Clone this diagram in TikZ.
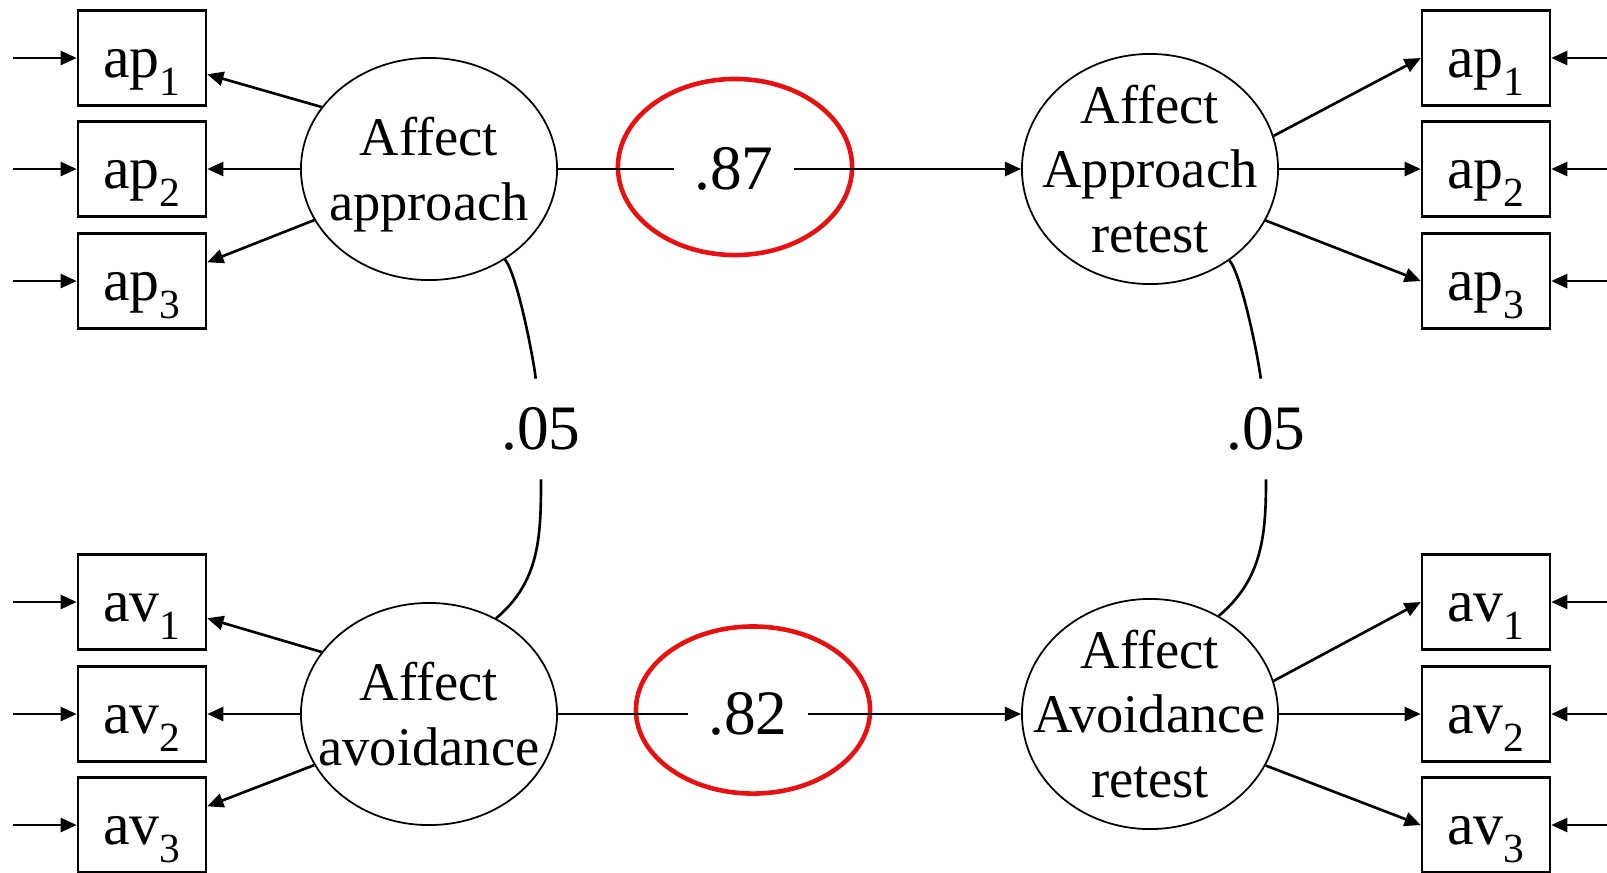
\documentclass[tikz,border=0pt]{standalone}
\usepackage{fontspec}
\setmainfont{Liberation Serif}
\usetikzlibrary{arrows.meta,shapes.geometric}

\newcommand{\itemlabel}[2]{\raisebox{-5.5pt}[0pt][0pt]{#1\raisebox{-5.1pt}{\fontsize{11.8}{12}\selectfont #2}}}

\begin{document}
\begin{tikzpicture}[
    x=0.01cm, y=0.01cm,
    >={Triangle[length=4.6pt,width=4pt]},
    itembox/.style={rectangle, draw=black, line width=0.7pt, minimum width=1.28cm, minimum height=0.95cm, inner sep=0pt, font=\fontsize{17}{20}\selectfont},
    factor/.style={ellipse, draw=black, line width=0.5pt, minimum width=2.56cm, minimum height=2.22cm, inner sep=-9pt, align=center, font=\fontsize{15.5}{18.4}\selectfont},
    coef/.style={inner xsep=5.5pt, inner ysep=8pt, font=\fontsize{18}{20}\selectfont},
    ring/.style={ellipse, draw=ringred, line width=1.3pt, minimum width=2.34cm, minimum height=1.76cm},
    link/.style={->, line width=0.75pt},
    cov/.style={line width=0.75pt}
]

% Colors
\definecolor{ringred}{RGB}{232,16,16}

\useasboundingbox (0,0) rectangle (1607,-872);

% Indicators, left
\node[itembox] (ap1) at (142,-58) {\itemlabel{ap}{1}};
\node[itembox] (ap2) at (142,-169) {\itemlabel{ap}{2}};
\node[itembox] (ap3) at (142,-281) {\itemlabel{ap}{3}};
\node[itembox] (av1) at (142,-602) {\itemlabel{av}{1}};
\node[itembox] (av2) at (142,-714) {\itemlabel{av}{2}};
\node[itembox] (av3) at (142,-825) {\itemlabel{av}{3}};

% Indicators, right
\node[itembox] (rap1) at (1486,-58) {\itemlabel{ap}{1}};
\node[itembox] (rap2) at (1486,-169) {\itemlabel{ap}{2}};
\node[itembox] (rap3) at (1486,-281) {\itemlabel{ap}{3}};
\node[itembox] (rav1) at (1486,-602) {\itemlabel{av}{1}};
\node[itembox] (rav2) at (1486,-714) {\itemlabel{av}{2}};
\node[itembox] (rav3) at (1486,-825) {\itemlabel{av}{3}};

% Latent factors
\node[factor, text depth=0pt] (apL) at (429,-169) {Affect\\approach};
\node[factor] (avL) at (429,-714) {Affect\\avoidance};
\node[factor, minimum height=2.30cm] (apR) at (1150,-169) {Affect\\Approach\\retest};
\node[factor, minimum height=2.30cm] (avR) at (1150,-714) {Affect\\Avoidance\\retest};

% Coefficients
\node[coef] (t87) at (734,-169) {.87};
\node[coef] (t82) at (748,-714) {.82};
\node[coef] (t05a) at (541,-429) {.05};
\node[coef] (t05b) at (1266,-429) {.05};

% Red rings
\node[ring] (r87) at (735,-167) {};
\node[ring, minimum height=1.67cm] (r82) at (753,-710) {};

% Error terms
\coordinate (eap1) at (13,-58);
\coordinate (eap2) at (13,-169);
\coordinate (eap3) at (13,-281);
\coordinate (eav1) at (13,-602);
\coordinate (eav2) at (13,-714);
\coordinate (eav3) at (13,-825);
\coordinate (erap1) at (1607,-58);
\coordinate (erap2) at (1607,-169);
\coordinate (erap3) at (1607,-281);
\coordinate (erav1) at (1607,-602);
\coordinate (erav2) at (1607,-714);
\coordinate (erav3) at (1607,-825);

\draw[link] (eap1) -- (ap1);
\draw[link] (eap2) -- (ap2);
\draw[link] (eap3) -- (ap3);
\draw[link] (eav1) -- (av1);
\draw[link] (eav2) -- (av2);
\draw[link] (eav3) -- (av3);
\draw[link] (erap1) -- (rap1);
\draw[link] (erap2) -- (rap2);
\draw[link] (erap3) -- (rap3);
\draw[link] (erav1) -- (rav1);
\draw[link] (erav2) -- (rav2);
\draw[link] (erav3) -- (rav3);

% Loadings
\draw[link] (apL.150) -- (ap1.-14);
\draw[link] (apL) -- (ap2);
\draw[link] (apL.204) -- (ap3.16);
\draw[link] (avL.150) -- (av1.-14);
\draw[link] (avL) -- (av2);
\draw[link] (avL.204) -- (av3.16);
\draw[link] (apR.15) -- (rap1.west);
\draw[link] (apR) -- (rap2);
\draw[link] (apR.-24) -- (rap3.west);
\draw[link] (avR.15) -- (rav1.west);
\draw[link] (avR) -- (rav2);
\draw[link] (avR.-24) -- (rav3.west);

% Stability paths
\draw[cov] (apL) -- (t87);
\draw[link] (t87) -- (apR);
\draw[cov] (avL) -- (t82);
\draw[link] (t82) -- (avR);

% Correlations
\draw[cov] (apL.-50) to[out=-50, in=96, looseness=0.4] (t05a);
\draw[cov] (t05a) to[out=-90, in=40] (avL.55);
\draw[cov] (apR.-49) to[out=-50, in=96, looseness=0.4] (t05b);
\draw[cov] (t05b) to[out=-90, in=40] (avR.55);

\end{tikzpicture}
\end{document}
